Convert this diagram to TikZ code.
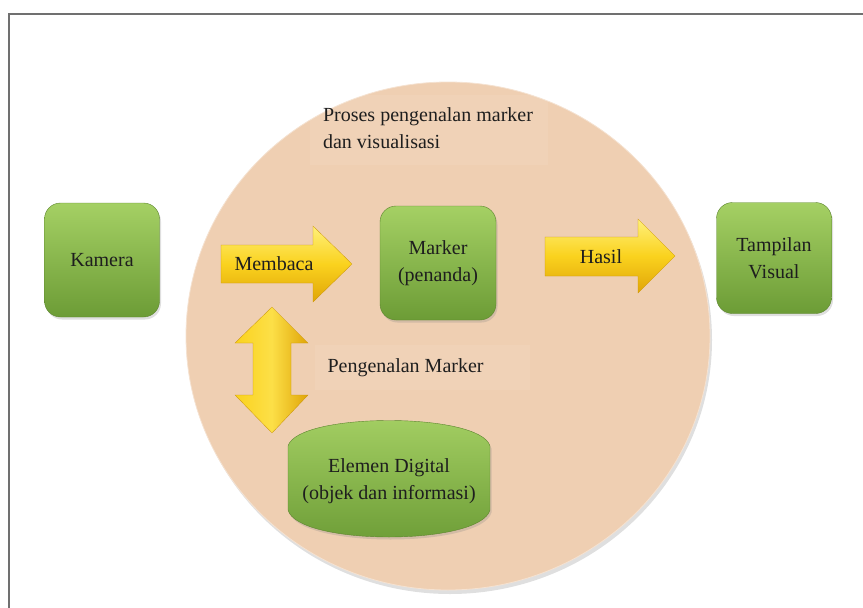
\documentclass[tikz,border=0pt]{standalone}
\usepackage{fontspec}
\setmainfont{Liberation Serif}
\usetikzlibrary{shadows}

\definecolor{kulit}{HTML}{EFCFB2}
\definecolor{hijauatas}{HTML}{A5D064}
\definecolor{hijaubawah}{HTML}{6C9C36}
\definecolor{kuningterang}{HTML}{FFF07A}
\definecolor{kuning}{HTML}{FAD21E}
\definecolor{kuninggelap}{HTML}{E0A508}
\definecolor{bingkai}{HTML}{707070}
\definecolor{teks}{HTML}{1E1E1E}

\tikzset{
    teksbesar/.style={font=\fontsize{20}{27}\selectfont, text=teks},
    kotak/.style={teksbesar, align=center, inner sep=0pt,
        rounded corners=16pt, top color=hijauatas, bottom color=hijaubawah,
        draw=hijaubawah!85!black, line width=0.4pt,
        drop shadow={shadow xshift=1.5pt, shadow yshift=-2.5pt, opacity=0.25}},
    panahh/.style={top color=kuningterang, bottom color=kuninggelap, middle color=kuning,
        draw=kuninggelap!90!black, line width=0.3pt},
    panahv/.style={left color=kuning, right color=kuninggelap, middle color=kuning!55!kuningterang,
        draw=kuninggelap!90!black, line width=0.3pt},
    latarteks/.style={fill=white, fill opacity=0.07}
}

\begin{document}
\begin{tikzpicture}[x=1pt, y=-1pt]

    \useasboundingbox (0,0) rectangle (863,608);

    % bingkai halaman
    \draw[bingkai, line width=1.5pt] (863,14) -- (9,14) -- (9,608);

    % --------------------------
    % lingkaran proses
    % --------------------------
    \fill[kulit, drop shadow={shadow xshift=2pt, shadow yshift=-4pt, opacity=0.25}]
        (448,336) ellipse [x radius=262, y radius=254];
    \draw[kulit!60!white, line width=0.8pt] (448,336) ellipse [x radius=262, y radius=254];

    % judul proses
    \fill[latarteks] (310,95) rectangle (548,165);
    \node[teksbesar, align=left] (judul) at (428,128)
        {Proses pengenalan marker\\dan visualisasi};

    % --------------------------
    % kotak hijau
    % --------------------------
    \node[kotak, minimum width=115, minimum height=114] (kamera) at (102,260) {Kamera};
    \node[kotak, minimum width=116, minimum height=114] (marker) at (438,263) {Marker\\(penanda)};
    \node[kotak, minimum width=115, minimum height=111] (tampilan) at (774,258) {Tampilan\\Visual};

    % elemen digital (bentuk tabung)
    \shade[top color=hijauatas, bottom color=hijaubawah, draw=hijaubawah!85!black, line width=0.4pt,
        drop shadow={shadow xshift=1.5pt, shadow yshift=-2.5pt, opacity=0.25}]
        (288,446) .. controls (298,412) and (480,412) .. (490,446)
        -- (490,510) .. controls (480,546) and (298,546) .. (288,510) -- cycle;
    \node[teksbesar, align=center] (elemen) at (389,481)
        {Elemen Digital\\(objek dan informasi)};

    % --------------------------
    % panah kuning
    % --------------------------
    % membaca
    \shade[panahh] (221,245) -- (313,245) -- (313,226) -- (352,264)
        -- (313,302) -- (313,283) -- (221,283) -- cycle;
    \node[teksbesar] (membaca) at (274,264) {Membaca};

    % hasil
    \shade[panahh] (545,237) -- (638,237) -- (638,219) -- (675,256)
        -- (638,293) -- (638,276) -- (545,276) -- cycle;
    \node[teksbesar] (hasil) at (601,257) {Hasil};

    % pengenalan (dua arah)
    \shade[panahv] (272,307) -- (308,343) -- (291,343) -- (291,395) -- (308,395)
        -- (272,433) -- (235,395) -- (253,395) -- (253,343) -- (235,343) -- cycle;
    \fill[latarteks] (315,345) rectangle (530,390);
    \node[teksbesar, anchor=west] (pengenalan) at (324,368) {Pengenalan Marker};

\end{tikzpicture}
\end{document}
